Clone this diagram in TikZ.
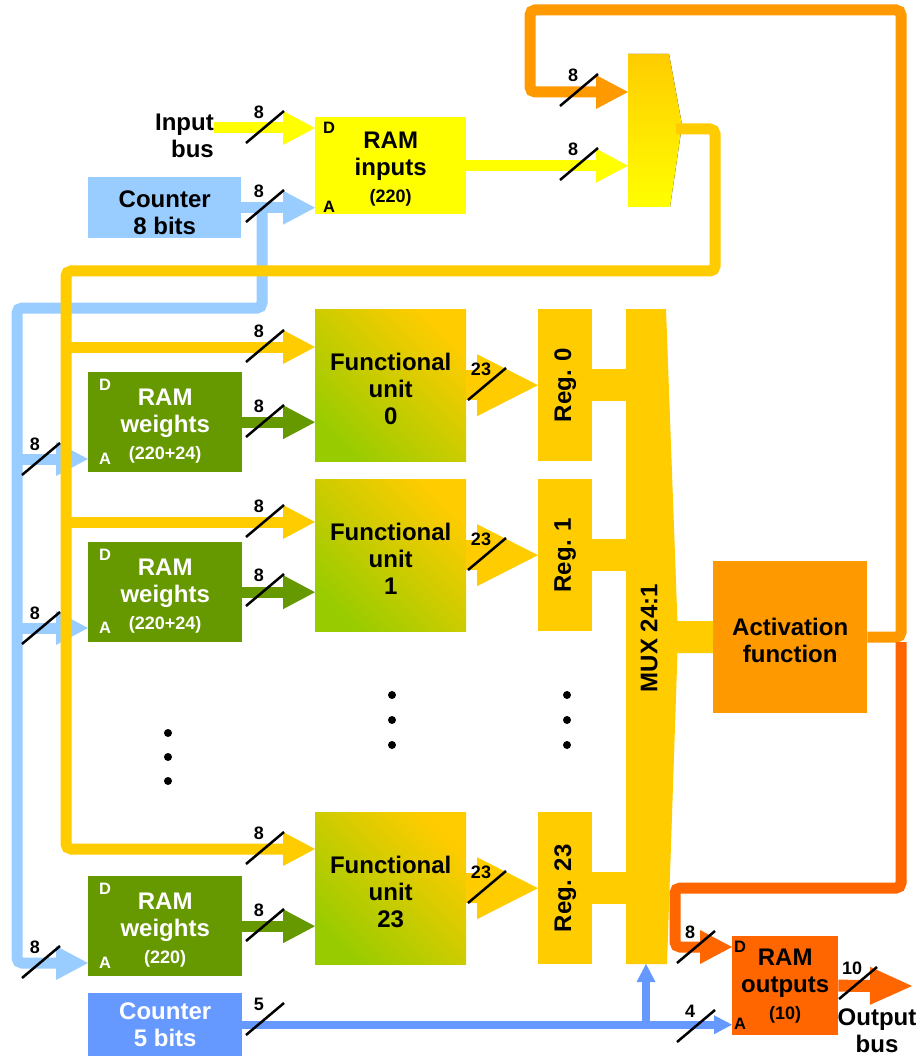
\documentclass[tikz,border=0pt]{standalone}
\usepackage{fontspec}
\setmainfont{Liberation Sans}
\usepackage{graphicx}
\usetikzlibrary{arrows.meta}

\definecolor{inyellow}{HTML}{FFFF00}
\definecolor{gold}{HTML}{FFCC00}
\definecolor{lblue}{HTML}{99CCFF}
\definecolor{mblue}{HTML}{6699FF}
\definecolor{wgreen}{HTML}{669900}
\definecolor{fgreen}{HTML}{99CC00}
\definecolor{orange1}{HTML}{FF9900}
\definecolor{orange2}{HTML}{FF6600}

\tikzset{
  lbl/.style={font=\fontsize{24}{27}\selectfont\bfseries},
  port/.style={font=\fontsize{16.5}{16.5}\selectfont\bfseries, inner sep=0pt},
  block/.style={lbl, anchor=north west, inner sep=0pt, align=center},
  fu/.style={block, top color=gold, bottom color=fgreen, shading angle=-45,
    minimum width=151pt, minimum height=152pt},
  reg/.style={block, fill=gold, minimum width=54pt, minimum height=152pt},
  ramw/.style={block, fill=wgreen, text=white, minimum width=154pt, minimum height=100pt},
  bus/.style={line width=11pt, rounded corners=5pt},
  fatbus/.style={line width=30pt},
  thinbus/.style={line width=8pt},
  bushead/.style={-{Triangle[length=32pt, width=34pt, line width=0pt]}},
  fathead/.style={-{Triangle[length=61pt, width=62pt, line width=0pt]}},
  outhead/.style={-{Triangle[length=42pt, width=38pt, line width=0pt]}},
  thinhead/.style={-{Triangle[length=18pt, width=19pt, line width=0pt]}},
  pics/wbus/.style={code={
    \draw[line width=2.5pt, black] (-19,16) -- (19,-16);
    \node[font=\fontsize{18}{18}\selectfont\bfseries] at (-6,-15) {#1};
  }}
}

\begin{document}
\begin{tikzpicture}[x=1pt, y=-1pt]
    \useasboundingbox[fill=white] (0,0) rectangle (919,1056);

    % boxes
    \node (inbus) at (214,136) [lbl, anchor=east, align=right, inner sep=0pt] {Input\\bus};
    \node (ramin) at (315,117) [block, fill=inyellow, minimum width=151pt, minimum height=97pt] {\rule{0pt}{24pt}RAM\\inputs\\{\fontsize{18}{20}\selectfont(220)}};
    \node (ramin-d) at (329,128) [port] {D};
    \node (ramin-a) at (329,207) [port] {A};
    \node (cnt8) at (88,177) [block, fill=lblue, minimum width=153pt, minimum height=61pt] {\rule{0pt}{26pt}Counter\\8 bits};

    \node (rw0) at (88,372) [ramw] {\rule{0pt}{24pt}RAM\\weights\\{\fontsize{18}{20}\selectfont(220+24)}};
    \node (rw0-d) at (105,385) [port, text=white] {D};
    \node (rw0-a) at (105,459) [port, text=white] {A};
    \node (rw1) at (88,542) [ramw] {\rule{0pt}{24pt}RAM\\weights\\{\fontsize{18}{20}\selectfont(220+24)}};
    \node (rw1-d) at (105,555) [port, text=white] {D};
    \node (rw1-a) at (105,628) [port, text=white] {A};
    \node (rw23) at (88,876) [ramw] {\rule{0pt}{24pt}RAM\\weights\\{\fontsize{18}{20}\selectfont(220)}};
    \node (rw23-d) at (105,889) [port, text=white] {D};
    \node (rw23-a) at (105,963) [port, text=white] {A};

    \node (fu0) at (315,309) [fu] {\rule{0pt}{25pt}Functional\\unit\\0};
    \node (fu1) at (315,479) [fu] {\rule{0pt}{25pt}Functional\\unit\\1};
    \node (fu23) at (315,812) [fu] {\rule{0pt}{25pt}Functional\\unit\\23};

    \node (reg0) at (538,309) [reg] {\rotatebox{90}{Reg. 0}};
    \node (reg1) at (538,479) [reg] {\rotatebox{90}{Reg. 1}};
    \node (reg23) at (538,812) [reg] {\rotatebox{90}{Reg. 23}};

    \node (act) at (713,561) [block, fill=orange1, minimum width=154pt, minimum height=152pt] {\rule{0pt}{23pt}Activation\\function};
    \node (cnt5) at (88,993) [block, fill=mblue, text=white, minimum width=154pt, minimum height=63pt] {Counter\\5 bits};
    \node (ramout) at (732,936) [block, fill=orange2, minimum width=106pt, minimum height=99pt] {RAM\\outputs\\{\fontsize{18}{20}\selectfont(10)}};
    \node (ramout-d) at (740,947) [port] {D};
    \node (ramout-a) at (740,1024) [port] {A};
    \node (outbus) at (877,1031) [lbl, align=center, inner sep=0pt] {Output\\bus};

    % multiplexers
    \fill[top color=gold, bottom color=inyellow] (628,54) -- (669,54) -- (682,125) -- (670,207) -- (628,207) -- cycle;
    \fill[gold] (626,309) -- (666,309) -- (678,637) -- (667,964) -- (626,964) -- cycle;

    \coordinate (mux2-in1) at (628,92);
    \coordinate (mux2-in2) at (628,166);
    \coordinate (mux2-out) at (676,129);
    \coordinate (mux24) at (649,638);
    \coordinate (mux24-l) at (630,0);
    \coordinate (mux24-r) at (670,637);
    \coordinate (mux24-b) at (646,964);
    \coordinate (tap8) at (262,207.5);
    \coordinate (lb-top) at (17,308);
    \coordinate (gb-top) at (66,271);
    \coordinate (fu0-in) at (315,347);
    \coordinate (fu1-in) at (315,522);
    \coordinate (fu23-in) at (315,849);
    \coordinate (ob-split) at (901,642);
    \coordinate (outend) at (912,986);

    % address buses
    \draw[bus, color=lblue, bushead] (tap8) |- (lb-top) |- (rw23-a -| rw23.west);
    \draw[bus, color=lblue, bushead] (lb-top |- rw0-a) -- (rw0-a -| rw0.west);
    \draw[bus, color=lblue, bushead] (lb-top |- rw1-a) -- (rw1-a -| rw1.west);
    \draw[bus, color=lblue, bushead] (cnt8.east) -- (cnt8.east -| ramin.west);
    \draw[thinbus, color=mblue, thinhead] (cnt5.east) -- (cnt5.east -| ramout.west);
    \draw[thinbus, color=mblue, thinhead] (cnt5.east -| mux24-b) -- (mux24-b);

    % data buses
    \draw[bus, color=inyellow, bushead] (inbus.east |- ramin-d) -- (ramin-d -| ramin.west);
    \draw[bus, color=inyellow, bushead] (ramin.east) -- (ramin.east -| mux2-in2);
    \draw[bus, color=gold, bushead] (mux2-out) -| (715,271) -- (gb-top) |- (fu23-in);
    \draw[bus, color=gold, bushead] (gb-top |- fu0-in) -- (fu0-in);
    \draw[bus, color=gold, bushead] (gb-top |- fu1-in) -- (fu1-in);

    \draw[bus, color=wgreen, bushead] (rw0.east) -- (rw0.east -| fu0.west);
    \draw[bus, color=wgreen, bushead] (rw1.east) -- (rw1.east -| fu1.west);
    \draw[bus, color=wgreen, bushead] (rw23.east) -- (rw23.east -| fu23.west);

    \draw[fatbus, color=gold, fathead] (fu0.east) -- (reg0.west);
    \draw[fatbus, color=gold, fathead] (fu1.east) -- (reg1.west);
    \draw[fatbus, color=gold, fathead] (fu23.east) -- (reg23.west);

    \draw[line width=32pt, gold] (reg0.east) -- (reg0.east -| mux24-l);
    \draw[line width=32pt, gold] (reg1.east) -- (reg1.east -| mux24-l);
    \draw[line width=32pt, gold] (reg23.east) -- (reg23.east -| mux24-l);
    \draw[line width=32pt, gold] (mux24-r) -- (act.west);
    \node (mux24-text) at (mux24) [lbl, rotate=90] {MUX 24:1};

    \draw[bus, color=orange1, bushead] (act.east) -| (901,10) -| (530,92) -- (mux2-in1);
    \draw[bus, color=orange2, bushead] (ob-split) |- (675,888) |- (ramout-d -| ramout.west);
    \draw[line width=12pt, color=orange2, outhead] (ramout.east) -- (outend);

    % bus widths
    \pic at (265,127) {wbus=8};
    \pic at (265,206) {wbus=8};
    \pic at (579,90) {wbus=8};
    \pic at (579,164) {wbus=8};
    \pic at (265,346) {wbus=8};
    \pic at (265,421) {wbus=8};
    \pic at (41,459) {wbus=8};
    \pic at (487,384) {wbus=23};
    \pic at (265,521) {wbus=8};
    \pic at (265,590) {wbus=8};
    \pic at (41,628) {wbus=8};
    \pic at (487,554) {wbus=23};
    \pic at (265,848) {wbus=8};
    \pic at (265,925) {wbus=8};
    \pic at (41,962) {wbus=8};
    \pic at (487,887) {wbus=23};
    \pic at (265,1019) {wbus=5};
    \pic at (696,947) {wbus=8};
    \pic at (696,1026) {wbus=4};
    \pic at (858,983) {wbus=10};

    % dots
    \fill (168,733) circle[radius=4pt];
    \fill (168,757) circle[radius=4pt];
    \fill (168,781) circle[radius=4pt];
    \fill (392,695) circle[radius=4pt];
    \fill (392,720) circle[radius=4pt];
    \fill (392,745) circle[radius=4pt];
    \fill (567,695) circle[radius=4pt];
    \fill (567,720) circle[radius=4pt];
    \fill (567,745) circle[radius=4pt];

\end{tikzpicture}
\end{document}
